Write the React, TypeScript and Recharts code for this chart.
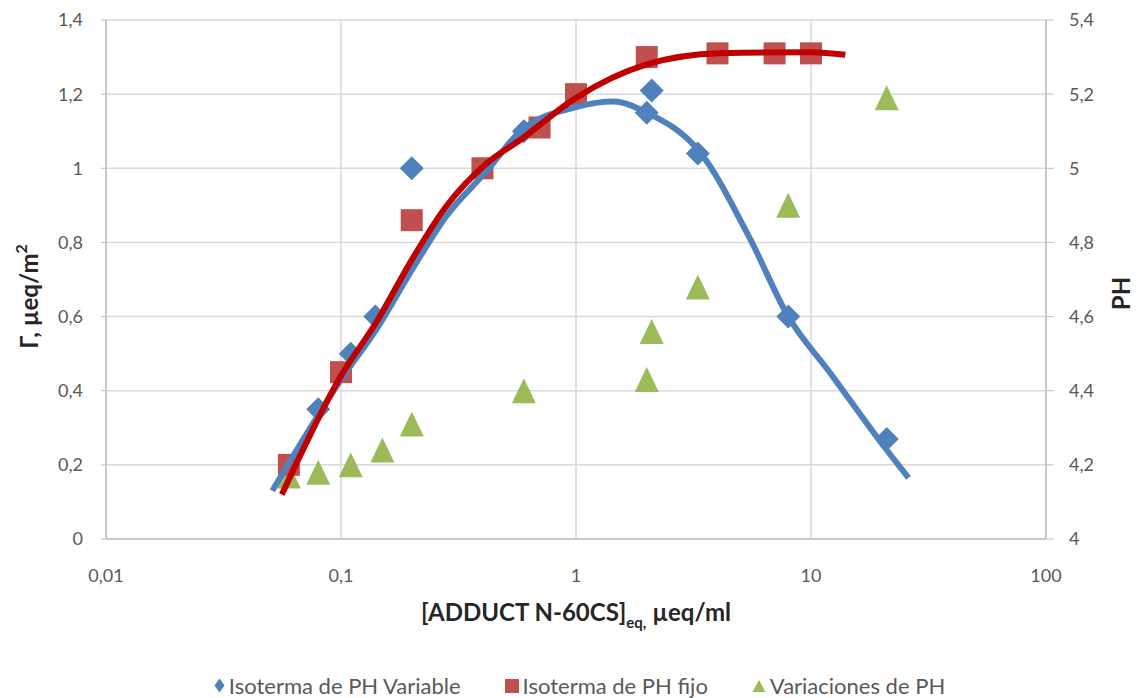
import { ComposedChart, Scatter, XAxis, YAxis, CartesianGrid, Legend } from "recharts"

const xTicks = [0.01, 0.1, 1, 10, 100]
const leftTicks = [0, 0.2, 0.4, 0.6, 0.8, 1, 1.2, 1.4]
const rightTicks = [4, 4.2, 4.4, 4.6, 4.8, 5, 5.2, 5.4]

const seriesNames = ["Isoterma de PH Variable", "Isoterma de PH fijo", "Variaciones de PH"]

// measured points
const varX = [0.08, 0.11, 0.14, 0.2, 0.6, 2.0, 2.1, 3.3, 8, 21]
const varY = [0.35, 0.5, 0.6, 1.0, 1.1, 1.15, 1.21, 1.04, 0.6, 0.27]

const fijoX = [0.06, 0.1, 0.2, 0.4, 0.7, 1, 2, 4, 7, 10]
const fijoY = [0.2, 0.45, 0.86, 1.0, 1.11, 1.2, 1.3, 1.31, 1.31, 1.31]

const phX = [0.06, 0.08, 0.11, 0.15, 0.2, 0.6, 2.0, 2.1, 3.3, 8, 21]
const phY = [4.17, 4.18, 4.2, 4.24, 4.31, 4.4, 4.43, 4.56, 4.68, 4.9, 5.19]

// fitted curves
const varFitX = [0.051, 0.1, 0.143, 0.2, 0.28, 0.42, 0.58, 1, 1.44, 2, 3.4, 5.5, 8, 12, 21, 26]
const varFitY = [0.13, 0.43, 0.57, 0.725, 0.87, 0.995, 1.1, 1.165, 1.18, 1.15, 1.04, 0.81, 0.6, 0.45, 0.24, 0.165]

const fijoFitX = [0.056, 0.1, 0.143, 0.2, 0.28, 0.42, 0.58, 1, 2, 4.1, 10, 14]
const fijoFitY = [0.12, 0.44, 0.59, 0.753, 0.897, 1.015, 1.077, 1.19, 1.28, 1.31, 1.313, 1.306]

const pts = (xs: number[], ys: number[]) => xs.map((x, i) => ({ x, y: ys[i] }))

const BLUE = "#4f81bd"
const RED = "#c0504d"
const GREEN = "#9bbb59"
const GREY_TXT = "#595959"

const fmt = (v: number) => String(v).replace(".", ",")

const Diamond = (p: any) => (
  <path d={`M${p.cx},${p.cy - 12}L${p.cx + 12},${p.cy}L${p.cx},${p.cy + 12}L${p.cx - 12},${p.cy}Z`} fill={BLUE} />
)
const Square = (p: any) => <rect x={p.cx - 11} y={p.cy - 11} width={22} height={22} fill={RED} />
const Triangle = (p: any) => (
  <path d={`M${p.cx},${p.cy - 12.5}L${p.cx + 12},${p.cy + 12.5}L${p.cx - 12},${p.cy + 12.5}Z`} fill={GREEN} />
)
const NoDot = () => <g />

function LegendBox() {
  const marks = [
    <svg width={11} height={15} key="d"><path d="M5.5,0.5L10.5,7.5L5.5,14.5L0.5,7.5Z" fill={BLUE} /></svg>,
    <svg width={14} height={14} key="s"><rect x={0} y={0} width={14} height={14} fill={RED} /></svg>,
    <svg width={14} height={14} key="t"><path d="M7,1L13.5,13L0.5,13Z" fill={GREEN} /></svg>,
  ]
  return (
    <div style={{ display: "flex", justifyContent: "center", gap: 44, fontSize: 22, color: GREY_TXT, fontFamily: "Lato", paddingLeft: 18 }}>
      {seriesNames.map((n, i) => (
        <div key={n} style={{ display: "flex", alignItems: "center", gap: 4 }}>
          {marks[i]}
          <span>{n}</span>
        </div>
      ))}
    </div>
  )
}

export default function App() {
  return (
    <ComposedChart
      width={1125}
      height={690}
      margin={{ top: 12, right: 0, bottom: 2, left: 0 }}
      style={{ fontFamily: "Lato" }}
    >
      <CartesianGrid yAxisId="left" stroke="#d9d9d9" strokeWidth={1.5} />
      <XAxis
        dataKey="x"
        type="number"
        scale="log"
        domain={[0.01, 100]}
        ticks={xTicks}
        allowDataOverflow
        tickFormatter={fmt}
        tick={{ fill: GREY_TXT, fontSize: 18 }}
        tickLine={false}
        tickSize={0}
        tickMargin={30}
        axisLine={{ stroke: "#bfbfbf", strokeWidth: 1.5 }}
        height={133}
        label={{
          content: ({ viewBox }: any) => (
            <text x={viewBox.x + viewBox.width / 2} y={613} textAnchor="middle" fill="#262626" fontWeight="bold" fontSize={24}>
              [ADDUCT N-60CS]
              <tspan fontSize={15} dy={7}>eq,</tspan>
              <tspan dy={-7}> µeq/ml</tspan>
            </text>
          ),
        }}
      />
      <YAxis
        yAxisId="left"
        type="number"
        domain={[0, 1.4]}
        ticks={leftTicks}
        tickFormatter={fmt}
        tick={{ fill: GREY_TXT, fontSize: 18 }}
        tickLine={{ stroke: "#bfbfbf" }}
        tickSize={5}
        tickMargin={18}
        axisLine={{ stroke: "#bfbfbf", strokeWidth: 1.5 }}
        width={98}
        label={{
          content: ({ viewBox }: any) => {
            const cy = viewBox.y + viewBox.height / 2 + 17
            return (
              <text
                x={20}
                y={cy}
                transform={`rotate(-90, 20, ${cy})`}
                textAnchor="middle"
                dominantBaseline="central"
                fill="#262626"
                fontWeight="bold"
                fontSize={24}
              >
                Γ, µeq/m<tspan fontSize={16} dy={-8}>2</tspan>
              </text>
            )
          },
        }}
      />
      <YAxis
        yAxisId="right"
        orientation="right"
        type="number"
        domain={[4, 5.4]}
        ticks={rightTicks}
        tickFormatter={fmt}
        tick={{ fill: GREY_TXT, fontSize: 18 }}
        tickLine={{ stroke: "#bfbfbf" }}
        tickSize={8}
        tickMargin={15}
        axisLine={{ stroke: "#bfbfbf", strokeWidth: 1.5 }}
        width={87}
        label={{
          content: ({ viewBox }: any) => {
            const cy = viewBox.y + viewBox.height / 2 + 14
            return (
              <text
                x={1112}
                y={cy}
                transform={`rotate(-90, 1112, ${cy})`}
                textAnchor="middle"
                dominantBaseline="central"
                fill="#262626"
                fontWeight="bold"
                fontSize={24}
              >
                PH
              </text>
            )
          },
        }}
      />
      <Legend verticalAlign="bottom" height={24} content={() => <LegendBox />} />
      <Scatter yAxisId="right" name={seriesNames[2]} data={pts(phX, phY)} dataKey="y" shape={Triangle} isAnimationActive={false} />
      <Scatter yAxisId="left" name={seriesNames[0]} data={pts(varX, varY)} dataKey="y" shape={Diamond} isAnimationActive={false} />
      <Scatter yAxisId="left" name={seriesNames[1]} data={pts(fijoX, fijoY)} dataKey="y" shape={Square} isAnimationActive={false} />
      <Scatter
        yAxisId="left"
        data={pts(varFitX, varFitY)}
        dataKey="y"
        shape={NoDot}
        line={{ stroke: BLUE, strokeWidth: 6 }}
        lineJointType="monotoneX"
        legendType="none"
        isAnimationActive={false}
      />
      <Scatter
        yAxisId="left"
        data={pts(fijoFitX, fijoFitY)}
        dataKey="y"
        shape={NoDot}
        line={{ stroke: "#c00000", strokeWidth: 6 }}
        lineJointType="monotoneX"
        legendType="none"
        isAnimationActive={false}
      />
    </ComposedChart>
  )
}
